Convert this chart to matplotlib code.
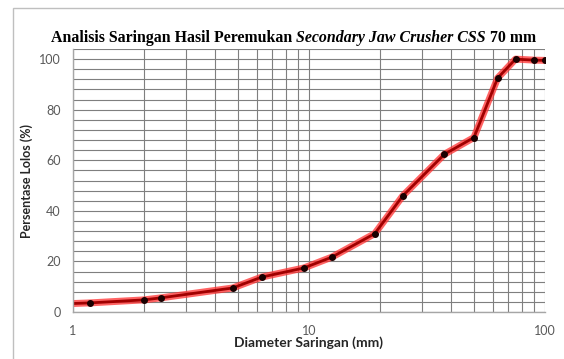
import matplotlib.pyplot as plt
from matplotlib.patches import Rectangle
from matplotlib.ticker import MultipleLocator, LogLocator, NullFormatter

# Data
diameter = [0.9, 1.18, 2.0, 2.36, 4.75, 6.3, 9.5, 12.5, 19.0, 25.0, 37.5, 50.0, 63.0, 75.0, 90.0, 100.0]
passing = [3.2, 3.6, 4.8, 5.6, 9.5, 13.8, 17.4, 21.7, 31.0, 46.0, 62.4, 69.0, 92.5, 100.0, 99.6, 99.5]

x_ticks = [1, 10, 100]
x_tick_labels = ["1", "10", "100"]
y_ticks = [0, 20, 40, 60, 80, 100]

GRID = "#7f7f7f"
TICK_GRAY = "#595959"

fig = plt.figure(figsize=(5.64, 3.59), dpi=100)
ax = fig.add_axes([0.1294, 0.1309, 0.8369, 0.7326])

# outer chart frame (right edge runs off the picture)
fig.patches.append(Rectangle((0.023, -0.05), 1.0, 1.028, transform=fig.transFigure,
                             fill=False, edgecolor="#bfbfbf", linewidth=1.0))

# red glow + dark core, like the excel line
ax.plot(diameter, passing, "-", color="#ff3030", linewidth=5, alpha=0.75,
        solid_capstyle="round", solid_joinstyle="round")
ax.plot(diameter, passing, "-", color="#a00000", linewidth=2,
        solid_joinstyle="round")
ax.plot(diameter, passing, "o", color="#1a0000", markersize=4)

ax.set_xscale("log")
ax.set_xlim(1, 100)
ax.set_ylim(0, 104)

ax.xaxis.set_major_locator(LogLocator(base=10))
ax.xaxis.set_minor_locator(LogLocator(base=10, subs=range(2, 10)))
ax.xaxis.set_minor_formatter(NullFormatter())
ax.set_xticks(x_ticks)
ax.set_xticklabels(x_tick_labels)
ax.set_yticks(y_ticks)
ax.yaxis.set_minor_locator(MultipleLocator(4))

ax.grid(True, which="both", color=GRID, linewidth=0.8)
ax.set_axisbelow(True)

for side in ["top", "right"]:
    ax.spines[side].set_visible(False)
for side in ["left", "bottom"]:
    ax.spines[side].set_color("#a6a6a6")
    ax.spines[side].set_linewidth(1.0)

ax.tick_params(which="both", length=0)
ax.tick_params(axis="y", pad=9, labelsize=9, labelcolor=TICK_GRAY)
ax.tick_params(axis="x", pad=9, labelsize=9, labelcolor=TICK_GRAY)
for lab in ax.get_xticklabels() + ax.get_yticklabels():
    lab.set_family("Lato")

# title in three pieces, chained one after the other
title_kw = dict(family="Liberation Serif", fontweight="bold", fontsize=11.4, va="bottom")
t1 = fig.text(0.09, 0.872, "Analisis Saringan Hasil Peremukan ", ha="left", **title_kw)
t2 = ax.annotate("Secondary Jaw Crusher CSS ", xy=(1, 0), xycoords=t1, ha="left",
                 style="italic", annotation_clip=False, **title_kw)
ax.annotate("70 mm", xy=(1, 0), xycoords=t2, ha="left", annotation_clip=False, **title_kw)

ax.set_ylabel("Persentase Lolos (%)", family="Lato", fontsize=9, fontweight="bold",
              color="#262626", labelpad=4)
ax.set_xlabel("Diameter Saringan (mm)", family="Lato", fontsize=10, fontweight="bold",
              color="#262626", labelpad=0)

fig.savefig("out.png", dpi=100)
